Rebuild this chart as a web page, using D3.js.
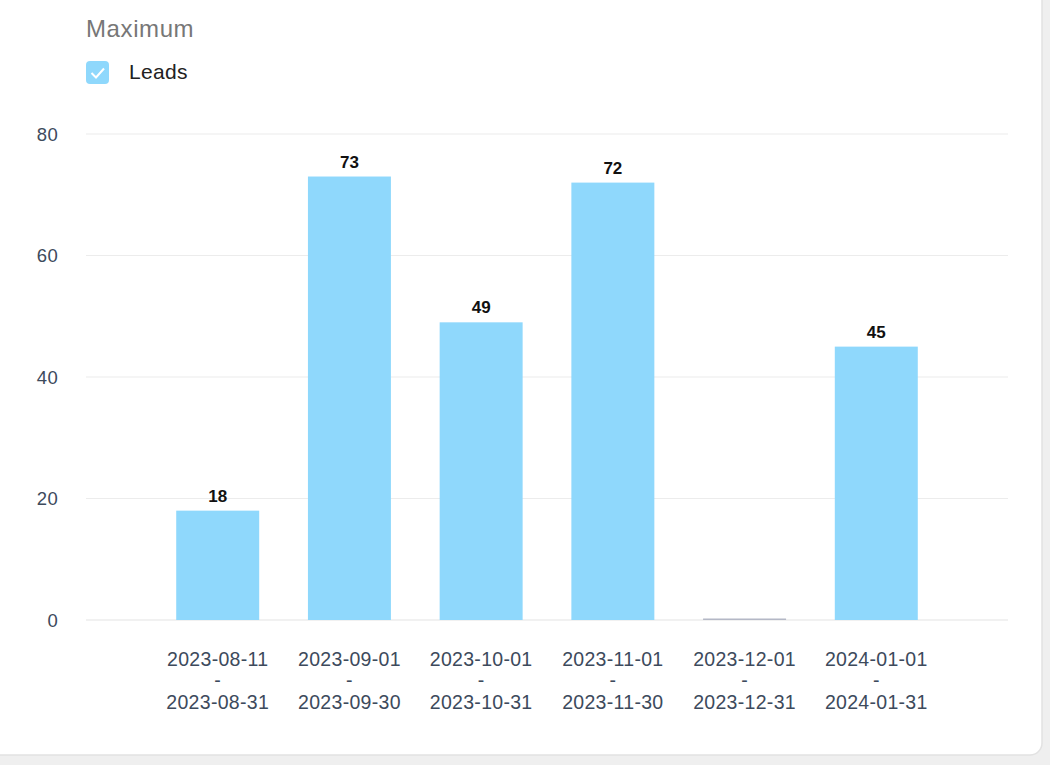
<!DOCTYPE html>
<html><head><meta charset="utf-8">
<script src="https://cdn.jsdelivr.net/npm/d3@7"></script>
<style>
html,body{margin:0;padding:0;background:#efefef;}
svg{display:block;font-family:"Liberation Sans",Arial,Helvetica,sans-serif;}
</style></head>
<body><svg id="c" width="1050" height="765"></svg>
<script>
const categoriesStart = ["2023-08-11","2023-09-01","2023-10-01","2023-11-01","2023-12-01","2024-01-01"];
const categoriesEnd   = ["2023-08-31","2023-09-30","2023-10-31","2023-11-30","2023-12-31","2024-01-31"];
const leads = [18, 73, 49, 72, 0, 45];
const yTicks = [0, 20, 40, 60, 80];
const seriesName = "Leads";
const chartTitle = "Maximum";

(function(){
const svg = d3.select("#c");
// card
svg.append("rect").attr("x",-20).attr("y",-20).attr("width",1062).attr("height",775)
  .attr("rx",12).attr("fill","#fff").attr("stroke","#e2e2e2").attr("stroke-width",1.5);

const pl = 86, pr = 1008, pt = 134, pb = 620;
const step = (pr-pl)/7;
const x = d3.scaleBand().domain(categoriesStart).range([pl+step/2, pr-step/2]).paddingInner(0.37).paddingOuter(0.185);
const y = d3.scaleLinear().domain([0,80]).range([pb, pt]);

// grid
svg.append("g").selectAll("line").data(yTicks).join("line")
  .attr("x1",pl).attr("x2",pr).attr("y1",d=>y(d)).attr("y2",d=>y(d))
  .attr("stroke",d=>d===0?"#e4e4e4":"#ececec").attr("stroke-width",1.2);

// y axis labels
const yAxis = d3.axisLeft(y).tickValues(yTicks).tickSize(0).tickPadding(0);
const gy = svg.append("g").attr("transform",`translate(58,0)`).call(yAxis);
gy.select(".domain").remove();
gy.selectAll("text").attr("font-size",18.5).attr("letter-spacing",0.3).attr("fill","#3d4a5c").attr("font-family","Liberation Sans, Arial, sans-serif").attr("dy","0.35em");

const data = leads.map((v,i)=>({cat:categoriesStart[i], end:categoriesEnd[i], v}));

// bars
svg.append("g").selectAll("rect").data(data).join("rect")
  .attr("x",d=>x(d.cat))
  .attr("width",x.bandwidth())
  .attr("y",d=>d.v>0?y(d.v):y(0)-1.5)
  .attr("height",d=>d.v>0?y(0)-y(d.v):1.5)
  .attr("fill",d=>d.v>0?"#8fd8fc":"#b4b8c6");

// value labels
svg.append("g").selectAll("text").data(data.filter(d=>d.v>0)).join("text")
  .attr("x",d=>x(d.cat)+x.bandwidth()/2)
  .attr("y",d=>y(d.v)-9)
  .attr("text-anchor","middle").attr("font-size",17).attr("font-weight","bold").attr("fill","#111")
  .text(d=>d.v);

// x labels
const xl = svg.append("g");
data.forEach(d=>{
  const cx = x(d.cat)+x.bandwidth()/2;
  const t = xl.append("text").attr("x",cx).attr("text-anchor","middle").attr("font-size",19.5).attr("letter-spacing",0.3).attr("fill","#3d4a5c");
  t.append("tspan").attr("x",cx).attr("y",666).text(d.cat);
  t.append("tspan").attr("x",cx).attr("y",687).text("-");
  t.append("tspan").attr("x",cx).attr("y",709).text(d.end);
});

// title & legend
svg.append("text").attr("x",86).attr("y",37).attr("font-size",24).attr("letter-spacing",0.6).attr("fill","#777").text(chartTitle);
svg.append("rect").attr("x",86).attr("y",61).attr("width",23).attr("height",23).attr("rx",4).attr("fill","#8fd8fc");
svg.append("path").attr("d","M91.5,73 L96,77.5 L104,68.5").attr("fill","none").attr("stroke","#fff").attr("stroke-width",2);
svg.append("text").attr("x",129).attr("y",79).attr("font-size",21).attr("letter-spacing",0.3).attr("fill","#222").text(seriesName);
})();
</script></body></html>
